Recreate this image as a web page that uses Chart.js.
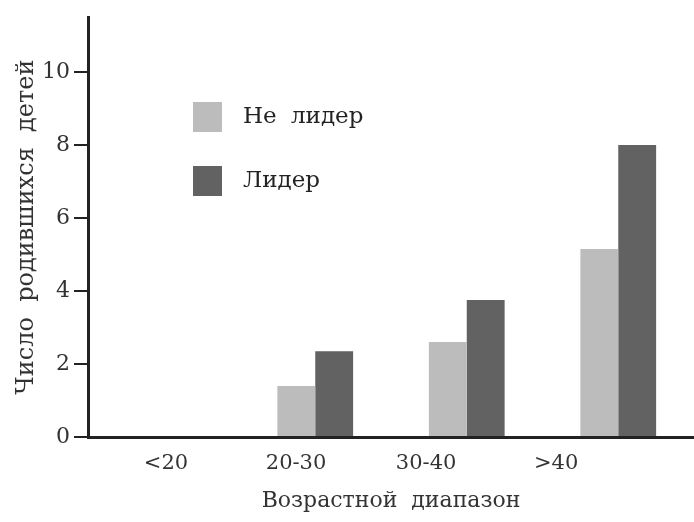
<!DOCTYPE html>
<html>
<head>
<meta charset="utf-8">
<script src="https://cdn.jsdelivr.net/npm/chart.js@4"></script>
<style>
  body { margin: 0; background: #fff; }
  #wrap { width: 694px; height: 522px; }
</style>
</head>
<body>
<div id="wrap"><canvas id="myChart"></canvas></div>
<script>
const categories = ["<20", "20-30", "30-40", ">40"];
const notLeader = [0, 1.4, 2.6, 5.15];
const leader = [0, 2.35, 3.75, 8.0];
const yTicks = [0, 2, 4, 6, 8, 10];
const seriesNames = ["Не лидер", "Лидер"];

const FONT = "'DejaVu Serif', serif";
const lightGray = "#bcbcbc";
const darkGray = "#626262";

// legend sits inside the plot, drawn by hand
const innerLegend = {
  id: "innerLegend",
  afterDraw(chart) {
    const ctx = chart.ctx;
    ctx.save();
    ctx.font = "23px " + FONT;
    ctx.textBaseline = "middle";
    ctx.wordSpacing = "7px";
    chart.data.datasets.forEach((ds, i) => {
      const y = 102 + i * 64;
      ctx.fillStyle = ds.backgroundColor;
      ctx.fillRect(193, y, 29, 30);
      ctx.fillStyle = "#222";
      ctx.fillText(ds.label, 243, y + 15);
    });
    ctx.restore();
  }
};

new Chart("myChart", {
  type: "bar",
  data: {
    labels: categories,
    datasets: [
      { label: seriesNames[0], data: notLeader, backgroundColor: lightGray },
      { label: seriesNames[1], data: leader, backgroundColor: darkGray }
    ]
  },
  options: {
    responsive: true,
    maintainAspectRatio: false,
    animation: false,
    layout: { padding: { top: 15, right: 0, left: 0, bottom: 10 } },
    datasets: { bar: { barPercentage: 1.0, categoryPercentage: 0.5 } },
    plugins: {
      legend: { display: false },
      tooltip: { enabled: false }
    },
    scales: {
      x: {
        type: "category",
        grid: { display: false, drawTicks: false },
        border: { display: true, color: "#222", width: 3 },
        ticks: { display: false }
      },
      // labels in the source sit left of the bar groups, so they get their own axis
      x2: {
        type: "linear",
        position: "bottom",
        offset: false,
        min: -0.6,
        max: 4.06,
        grid: { display: false, drawTicks: false },
        border: { display: false },
        afterBuildTicks: axis => { axis.ticks = categories.map((c, i) => ({ value: i })); },
        ticks: {
          padding: 16,
          color: "#333",
          font: { family: FONT, size: 21, lineHeight: 1 },
          callback: v => categories[v]
        },
        title: {
          display: true,
          text: "Возрастной  диапазон",
          color: "#333",
          font: { family: FONT, size: 22, lineHeight: 1 },
          padding: { top: 0, bottom: 0 }
        }
      },
      y: {
        min: 0,
        max: 11.5,
        afterBuildTicks: axis => { axis.ticks = yTicks.map(v => ({ value: v })); },
        afterFit: axis => { axis.width = 88; },
        grid: { drawOnChartArea: false, drawTicks: true, tickLength: 14, color: "#222", lineWidth: 2 },
        border: { display: true, color: "#222", width: 3 },
        ticks: {
          padding: 4,
          color: "#333",
          font: { family: FONT, size: 22 }
        },
        title: {
          display: true,
          text: "Число  родившихся  детей",
          color: "#333",
          font: { family: FONT, size: 24 },
          padding: { top: 12, bottom: 0 }
        }
      }
    }
  },
  plugins: [innerLegend]
});
</script>
</body>
</html>
